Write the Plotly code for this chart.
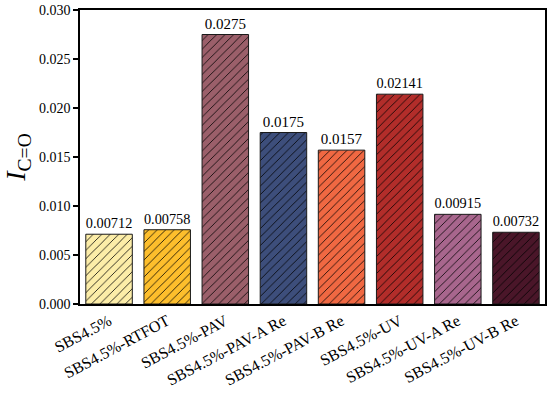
import plotly.graph_objects as go

categories = ["SBS4.5%", "SBS4.5%-RTFOT", "SBS4.5%-PAV", "SBS4.5%-PAV-A Re",
              "SBS4.5%-PAV-B Re", "SBS4.5%-UV", "SBS4.5%-UV-A Re", "SBS4.5%-UV-B Re"]
values = [0.00712, 0.00758, 0.0275, 0.0175, 0.0157, 0.02141, 0.00915, 0.00732]
labels = ["0.00712", "0.00758", "0.0275", "0.0175", "0.0157", "0.02141", "0.00915", "0.00732"]
colors = ["#FCEDA8", "#FDBE2C", "#9B5F6A", "#3D4E7B", "#F06842", "#B22D2A", "#A8668D", "#4A1629"]

font = "Liberation Serif"

fig = go.Figure()
# solid coloured fill
fig.add_trace(go.Bar(
    x=categories, y=values,
    marker=dict(color=colors, line=dict(width=0)),
    width=0.8, hoverinfo="skip",
))
# hatch overlay with black outline and value labels
fig.add_trace(go.Bar(
    x=categories, y=values, text=labels, textposition="outside",
    textfont=dict(family=font, size=15, color="black"),
    marker=dict(color="rgba(0,0,0,0)", line=dict(color="#1a1a1a", width=1),
                pattern=dict(shape="/", fillmode="replace", bgcolor="rgba(0,0,0,0)",
                             fgcolor="#000000", fgopacity=1, size=6, solidity=0.13)),
    width=0.8, cliponaxis=False,
))

fig.update_layout(
    width=550, height=397,
    margin=dict(l=80, r=5, t=10, b=93),
    plot_bgcolor="white", paper_bgcolor="white",
    font=dict(family=font, color="black"),
    showlegend=False, barmode="overlay",
)
fig.update_xaxes(showline=True, linecolor="black", linewidth=1.5, mirror=True,
                 ticks="", tickangle=-28, tickfont=dict(family=font, size=16),
                 automargin=False)
fig.update_yaxes(range=[0, 0.030], dtick=0.005, tickformat=".3f",
                 showline=True, linecolor="black", linewidth=1.5, mirror=True,
                 ticks="outside", ticklen=5, tickwidth=1.5, tickcolor="black",
                 showgrid=False, zeroline=False, automargin=False,
                 tickfont=dict(family=font, size=14),
                 title=dict(text="<i>I</i><sub>C=O</sub>", font=dict(family=font, size=28), standoff=12))

fig.write_html("out.html", config={"displayModeBar": False},
               post_script="document.body.style.margin='0';document.body.style.padding='0';")
